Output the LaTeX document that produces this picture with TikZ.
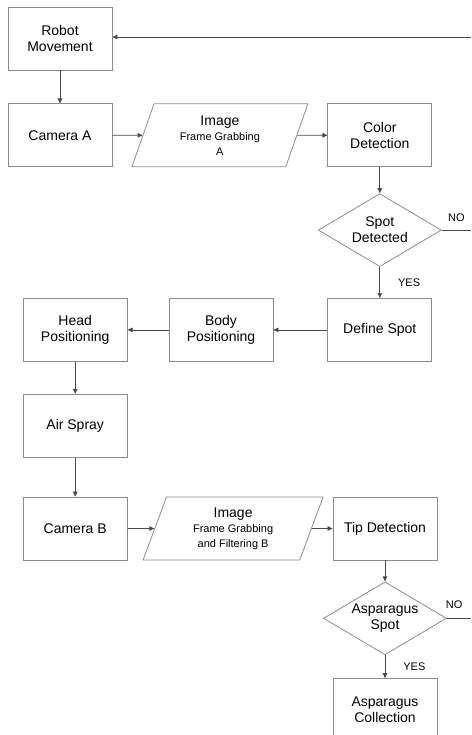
\documentclass[tikz,border=0pt]{standalone}
\usepackage{fontspec}
\setmainfont{Liberation Sans}
\usepackage{xcolor}
\usepackage{tikz}
\usetikzlibrary{arrows.meta,calc,positioning,shapes.geometric}

\definecolor{boxgray}{HTML}{8C8C8C}
\definecolor{linegray}{HTML}{4A4A4A}
\newcommand{\smalltxt}{\fontsize{11}{13}\selectfont}

\begin{document}
\begin{tikzpicture}[x=1pt, y=1pt,
        box/.style={draw=boxgray, line width=0.8pt, minimum width=104pt, minimum height=63pt,
            inner sep=2pt, align=center, font=\fontsize{14}{16}\selectfont},
        io/.style={trapezium, trapezium left angle=62, trapezium right angle=118,
            trapezium stretches body, draw=boxgray, line width=0.8pt, minimum width=176pt,
            minimum height=63pt, inner sep=1pt, align=center, font=\fontsize{14}{15}\selectfont},
        decision/.style={diamond, aspect=1.68, draw=boxgray, line width=0.8pt, minimum width=123pt,
            minimum height=73pt, inner sep=0pt, align=center, font=\fontsize{14}{16}\selectfont},
        line/.style={draw=linegray, line width=0.7pt, -{Triangle[length=5pt, width=4.5pt]}},
        plain/.style={draw=linegray, line width=0.7pt},
        lbl/.style={inner sep=0pt, font=\fontsize{11}{13}\selectfont}]
        \useasboundingbox (0,0) rectangle (471,-735);

        \node[box] (robot) at (60,-38.5) {Robot\\Movement};
        \node[box] (camA) [below = 33pt of robot] {Camera A};
        \node[box] (color) [right = 215pt of camA] {Color\\Detection};
        \node[io] (imgA) at ($(camA.east)!0.5!(color.west)$) {Image\\\smalltxt Frame Grabbing\\\smalltxt A};
        \node[decision] (spot) [below = 26pt of color] {Spot\\Detected};
        \node[box] (define) [below = 31pt of spot] {Define Spot};
        \node[box] (body) [left = 54pt of define] {Body\\Positioning};
        \node[box] (head) [left = 41pt of body] {Head\\Positioning};
        \node[box] (air) [below = 32pt of head] {Air Spray};
        \node[box] (camB) [below = 39pt of air] {Camera B};
        \node[box] (tip) [right = 205pt of camB] {Tip Detection};
        \node[io, minimum width=180pt] (imgB) at ($(camB.east)!0.5!(tip.west) + (3,0)$)
            {Image\\\smalltxt Frame Grabbing\\\smalltxt and Filtering B};
        \node[decision] (aspot) [below = 21pt of tip] {Asparagus\\Spot};
        \node[box] (coll) [below = 23pt of aspot] {Asparagus\\Collection};

        % loop back to the start, and the two NO exits
        \coordinate (back) at (471,-37);

        \path[line]
            (back) -- (back -| robot.east);
        \path[line] (robot) -- (camA);
        \path[line] (camA) -- (imgA);
        \path[line] (imgA) -- (color);
        \path[line] (color) -- (spot);
        \path[line] (spot) -- node[lbl, right = 18pt] {YES} (define);
        \path[plain] (spot.east) -- node[lbl, above = 8pt] {NO} (spot.east -| back);
        \path[line] (define) -- (body);
        \path[line] (body) -- (head);
        \path[line] (head) -- (air);
        \path[line] (air) -- (camB);
        \path[line] (camB) -- (imgB);
        \path[line] (imgB) -- (tip);
        \path[line] (tip) -- (aspot);
        \path[line] (aspot) -- node[lbl, right = 18pt] {YES} (coll);
        \path[plain] (aspot.east) -- node[lbl, above = 9pt, pos=0.3] {NO} (aspot.east -| back);
\end{tikzpicture}
\end{document}
